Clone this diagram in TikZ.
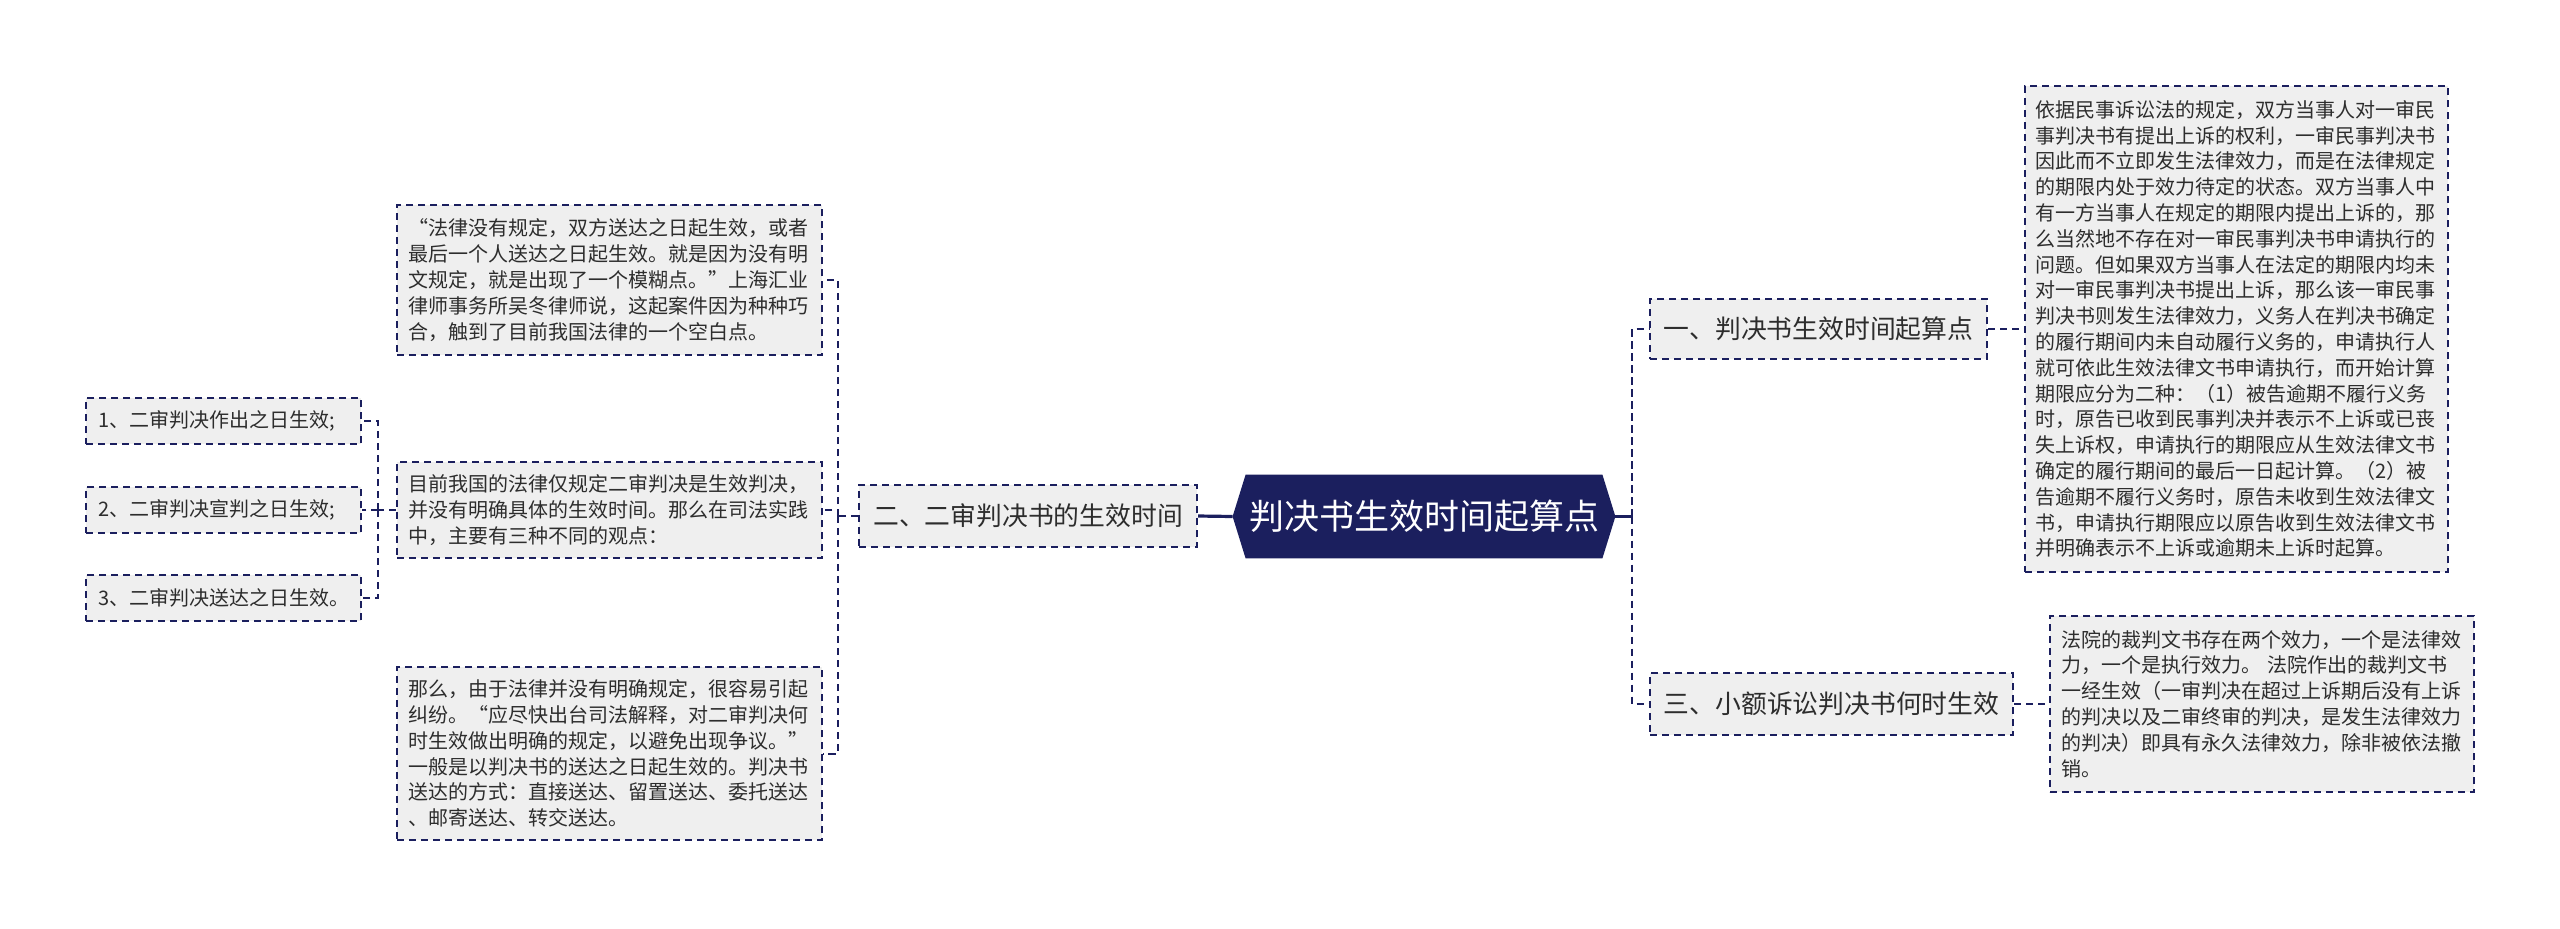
\documentclass[tikz,border=0pt]{standalone}
\usepackage{fontspec}
\setmainfont{Noto Sans CJK SC}
\newcommand\fwq[1]{{\addfontfeature{CharacterWidth=Full}#1}}
\definecolor{navy}{RGB}{27,31,94}
\definecolor{boxfill}{RGB}{239,239,239}
\definecolor{txt}{RGB}{45,45,45}
\begin{document}
\begin{tikzpicture}[x=0.5pt,y=-0.5pt,
  base/.style={draw=navy, fill=boxfill, line width=1pt, dash pattern=on 3.7pt off 2.3pt, text=txt, inner sep=0pt},
  para/.style={base, font=\fontsize{10}{12.9}\selectfont, align=left, inner xsep=5.5pt},
  lbl/.style={base, font=\fontsize{12.9}{15}\selectfont, align=center},
  small/.style={base, font=\fontsize{10}{12.9}\selectfont, align=left, inner xsep=6pt, text width=125.5pt, minimum height=23pt},
  conn/.style={draw=navy, line width=1pt, dash pattern=on 3.7pt off 2.3pt},
  trunk/.style={draw=navy, line width=1.6pt}]
\useasboundingbox (0,0) rectangle (2560,928);

% root
\node[minimum width=191pt, minimum height=41.5pt, inner sep=0pt] (root) at (1424,516.5) {};
\fill[navy] (root.west) -- ([xshift=6.5pt]root.north west) -- ([xshift=-6.5pt]root.north east) -- (root.east) -- ([xshift=-6.5pt]root.south east) -- ([xshift=6.5pt]root.south west) -- cycle;
\node[text=white, font=\fontsize{17.5}{20}\selectfont, inner sep=0pt] (rootlabel) at (root.center) {判决书生效时间起算点};

% level 1
\node[lbl, minimum width=169pt, minimum height=31pt] (b2) at (1028,516) {二、二审判决书的生效时间};
\node[lbl, minimum width=168.5pt, minimum height=30pt] (b1) at (1818.5,329) {一、判决书生效时间起算点};
\node[lbl, minimum width=181.5pt, minimum height=31pt] (b3) at (1831.5,704) {三、小额诉讼判决书何时生效};

% left paragraphs
\node[para, text width=201.5pt, minimum height=75pt] (pA) at (609.5,280) {\fwq{“}法律没有规定，双方送达之日起生效，或者\\最后一个人送达之日起生效。就是因为没有明\\文规定，就是出现了一个模糊点。\fwq{”}上海汇业\\律师事务所吴冬律师说，这起案件因为种种巧\\合，触到了目前我国法律的一个空白点。};
\node[para, text width=201.5pt, minimum height=48pt] (pB) at (609.5,510) {目前我国的法律仅规定二审判决是生效判决，\\并没有明确具体的生效时间。那么在司法实践\\中，主要有三种不同的观点：};
\node[para, text width=201.5pt, minimum height=86.5pt] (pC) at (609.5,753.5) {那么，由于法律并没有明确规定，很容易引起\\纠纷。\fwq{“}应尽快出台司法解释，对二审判决何\\时生效做出明确的规定，以避免出现争议。\fwq{”}\\一般是以判决书的送达之日起生效的。判决书\\送达的方式：直接送达、留置送达、委托送达\\、邮寄送达、转交送达。};

% small boxes
\node[small] (s1) at (223.5,421) {1、二审判决作出之日生效;};
\node[small] (s2) at (223.5,510) {2、二审判决宣判之日生效;};
\node[small] (s3) at (223.5,598) {3、二审判决送达之日生效。};

% right paragraphs
\node[para, inner xsep=5pt, text width=201.5pt, minimum height=243pt] (r1) at (2236.5,329) {依据民事诉讼法的规定，双方当事人对一审民\\事判决书有提出上诉的权利，一审民事判决书\\因此而不立即发生法律效力，而是在法律规定\\的期限内处于效力待定的状态。双方当事人中\\有一方当事人在规定的期限内提出上诉的，那\\么当然地不存在对一审民事判决书申请执行的\\问题。但如果双方当事人在法定的期限内均未\\对一审民事判决书提出上诉，那么该一审民事\\判决书则发生法律效力，义务人在判决书确定\\的履行期间内未自动履行义务的，申请执行人\\就可依此生效法律文书申请执行，而开始计算\\期限应分为二种：（1）被告逾期不履行义务\\时，原告已收到民事判决并表示不上诉或已丧\\失上诉权，申请执行的期限应从生效法律文书\\确定的履行期间的最后一日起计算。（2）被\\告逾期不履行义务时，原告未收到生效法律文\\书，申请执行期限应以原告收到生效法律文书\\并明确表示不上诉或逾期未上诉时起算。};
\node[para, text width=201pt, minimum height=88pt] (r3) at (2262,704) {法院的裁判文书存在两个效力，一个是法律效\\力，一个是执行效力。 法院作出的裁判文书\\一经生效（一审判决在超过上诉期后没有上诉\\的判决以及二审终审的判决，是发生法律效力\\的判决）即具有永久法律效力，除非被依法撤\\销。};

% junctions
\coordinate (jl) at (838,516);
\coordinate (js) at (378,510);
\coordinate (jr) at (1632,516.5);

% connectors
\draw[trunk] (root.west) -- (b2.east);
\draw[conn] (b2.west) -- (jl);
\draw[conn] (jl) |- (pA.east);
\draw[conn] (jl) |- (pB.east);
\draw[conn] (jl) |- (pC.east);
\draw[conn] (pB.west) -- (js);
\draw[conn] (js) |- (s1.east);
\draw[conn] (js) |- (s2.east);
\draw[conn] (js) |- (s3.east);
\draw[trunk] (root.east) -- (jr);
\draw[conn] (jr) |- (b1.west);
\draw[conn] (jr) |- (b3.west);
\draw[conn] (b1.east) -- (r1.west);
\draw[conn] (b3.east) -- (r3.west);
\end{tikzpicture}
\end{document}
